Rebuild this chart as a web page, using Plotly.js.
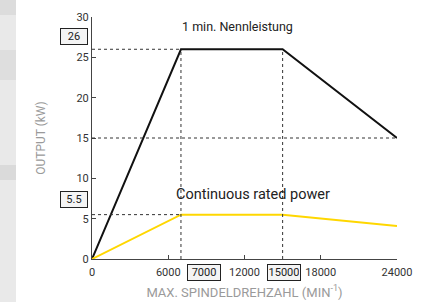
<!DOCTYPE html>
<html>
<head>
<meta charset="utf-8">
<script src="https://cdn.plot.ly/plotly-3.0.1.min.js"></script>
<style>html,body{margin:0;padding:0;background:#fff;}#chart{width:433px;height:302px;}</style>
</head>
<body>
<div id="chart"></div>
<script>
// ---- data ----
const speed = [0, 7000, 15000, 24000];           // min^-1
const peakPower = [0, 26, 26, 15];              // kW, 1 min rating
const contPower = [0, 5.5, 5.5, 4.1];           // kW, continuous
const peakLabel = "1 min. Nennleistung";
const contLabel = "Continuous rated power";
const xTicks = [0, 6000, 12000, 18000, 24000];
const yTicks = [0, 5, 10, 15, 20, 25, 30];

const FONT = "Roboto, 'DejaVu Sans', sans-serif";
const dot = {color: '#333', width: 1, dash: 'dot'};

const traces = [
  {x: speed, y: peakPower, mode: 'lines', line: {color: '#111', width: 2}, cliponaxis: false, hoverinfo: 'skip'},
  {x: speed, y: contPower, mode: 'lines', line: {color: '#ffd700', width: 2}, cliponaxis: false, hoverinfo: 'skip'}
];

// paper coordinate helpers (pixel -> paper)
const L = 92, W = 305, T = 17, H = 242;
const px = p => (p - L) / W;
const py = p => (T + H - p) / H;

const shapes = [
  // background strip at far left
  {type: 'rect', xref: 'paper', yref: 'paper', x0: px(-2), x1: px(16), y0: py(304), y1: py(-2), fillcolor: '#e9e9e9', line: {width: 0}, layer: 'below'},
  {type: 'rect', xref: 'paper', yref: 'paper', x0: px(-2), x1: px(16), y0: py(80), y1: py(50), fillcolor: '#dedede', line: {width: 0}, layer: 'below'},
  {type: 'rect', xref: 'paper', yref: 'paper', x0: px(-2), x1: px(16), y0: py(180), y1: py(165), fillcolor: '#dadada', line: {width: 0}, layer: 'below'},
  {type: 'rect', xref: 'paper', yref: 'paper', x0: px(-2), x1: px(16), y0: py(15), y1: py(-2), fillcolor: '#dcdcdc', line: {width: 0}, layer: 'below'},
  // reference dotted lines
  {type: 'line', x0: 0, x1: speed[1], y0: peakPower[1], y1: peakPower[1], line: dot},
  {type: 'line', x0: 0, x1: speed[3], y0: peakPower[3], y1: peakPower[3], line: dot},
  {type: 'line', x0: 0, x1: speed[1], y0: contPower[1], y1: contPower[1], line: dot},
  {type: 'line', x0: speed[1], x1: speed[1], y0: 0, y1: peakPower[1], line: dot},
  {type: 'line', x0: speed[2], x1: speed[2], y0: 0, y1: peakPower[2], line: dot}
];

const boxStyle = {bordercolor: '#222', borderwidth: 1, borderpad: 1, bgcolor: '#f4f4f4', showarrow: false, font: {family: FONT, size: 11, color: '#222'}};
const annotations = [
  Object.assign({}, boxStyle, {text: String(peakPower[1]), xref: 'paper', yref: 'paper', x: px(74), y: py(37), xanchor: 'center', yanchor: 'middle', width: 24}),
  Object.assign({}, boxStyle, {text: String(contPower[1]), xref: 'paper', yref: 'paper', x: px(74), y: py(199.5), xanchor: 'center', yanchor: 'middle', width: 24}),
  Object.assign({}, boxStyle, {text: String(speed[1]), xref: 'paper', yref: 'paper', x: px(204), y: py(272.5), xanchor: 'center', yanchor: 'middle', width: 30}),
  Object.assign({}, boxStyle, {text: String(speed[2]), xref: 'paper', yref: 'paper', x: px(284), y: py(272.5), xanchor: 'center', yanchor: 'middle', width: 30}),
  {text: peakLabel, xref: 'paper', yref: 'paper', x: px(180), y: py(27), xanchor: 'left', yanchor: 'middle', showarrow: false, font: {family: FONT, size: 12.5, color: '#222'}},
  {text: contLabel, xref: 'paper', yref: 'paper', x: px(174), y: py(194), xanchor: 'left', yanchor: 'middle', showarrow: false, font: {family: FONT, size: 14.5, color: '#222'}}
];

const layout = {
  width: 433, height: 302,
  margin: {l: 92, r: 36, t: 17, b: 43},
  paper_bgcolor: '#fff', plot_bgcolor: '#fff',
  showlegend: false,
  font: {family: FONT, size: 11, color: '#333'},
  xaxis: {
    range: [0, 24000], tickvals: xTicks, ticktext: xTicks.map(String),
    showgrid: false, zeroline: false, showline: true, linecolor: '#444', linewidth: 1,
    ticks: 'inside', ticklen: 4, tickcolor: '#444', ticklabelstandoff: 3,
    tickfont: {family: FONT, size: 11, color: '#333'},
    title: {text: 'MAX. SPINDELDREHZAHL (MIN<sup>-1</sup>)', font: {family: FONT, size: 13, color: '#9a9a9a'}, standoff: 9}
  },
  yaxis: {
    range: [0, 30], tickvals: yTicks, ticktext: yTicks.map(String),
    showgrid: false, zeroline: false, showline: true, linecolor: '#444', linewidth: 1,
    ticks: 'inside', ticklen: 4, tickcolor: '#444',
    tickfont: {family: FONT, size: 11, color: '#333'},
    title: {text: 'OUTPUT (kW)', font: {family: FONT, size: 12, color: '#9a9a9a'}, standoff: 28}
  },
  shapes: shapes,
  annotations: annotations
};

Plotly.newPlot('chart', traces, layout, {displayModeBar: false, staticPlot: true});
</script>
</body>
</html>
